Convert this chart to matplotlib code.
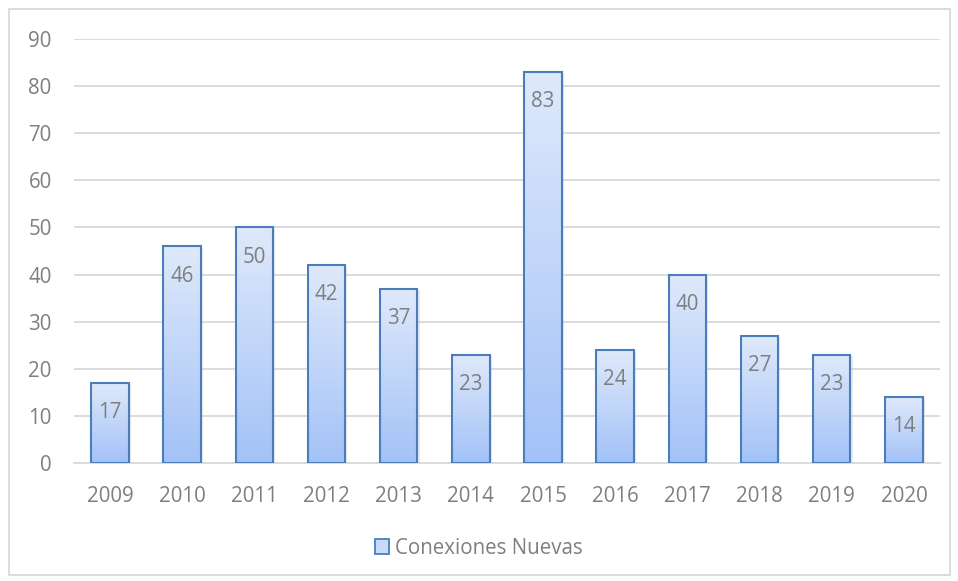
import numpy as np
import matplotlib.pyplot as plt
from matplotlib.patches import Rectangle, Patch
from matplotlib.colors import LinearSegmentedColormap

plt.rcParams['font.family'] = ['Open Sans', 'DejaVu Sans']

# data
years = ['2009', '2010', '2011', '2012', '2013', '2014',
         '2015', '2016', '2017', '2018', '2019', '2020']
conexiones = [17, 46, 50, 42, 37, 23, 83, 24, 40, 27, 23, 14]

gray = '#7f7f7f'
edge = '#4a7ebb'
grad = LinearSegmentedColormap.from_list('g', ['#a3c2f7', '#dfe9fb'])
fs = 14.8

fig = plt.figure(figsize=(9.58, 5.81), dpi=100)
ax = fig.add_axes([0.0772, 0.2031, 0.9040, 0.7298])

x = np.arange(len(years))
bars = ax.bar(x, conexiones, width=0.52, facecolor='none', edgecolor=edge,
              linewidth=1.5, zorder=3)

# gradient fill clipped to each bar
gradient = np.linspace(0, 1, 256).reshape(-1, 1)
for b in bars:
    x0, w, h = b.get_x(), b.get_width(), b.get_height()
    im = ax.imshow(gradient, cmap=grad, origin='lower', aspect='auto',
                   extent=[x0, x0 + w, 0, h], zorder=2, interpolation='bicubic')
    clip = Rectangle((x0, 0), w, h, transform=ax.transData)
    im.set_clip_path(clip)
    # light shadow
    ax.add_patch(Rectangle((x0 + 0.03, -0.3), w, h, facecolor='#bfbfbf',
                           alpha=0.35, edgecolor='none', zorder=1.5))

ax.set_xlim(-0.5, len(years) - 0.5)
ax.set_ylim(0, 90)

for xi, v in zip(x, conexiones):
    ax.annotate(str(v), (xi, v), xytext=(0, -21.5), textcoords='offset points',
                ha='center', va='center', fontsize=fs, color=gray, zorder=4)

ax.set_yticks(range(0, 91, 10))
ax.set_xticks(x)
ax.set_xticklabels(years)
ax.yaxis.grid(True, color='#d9d9d9', linewidth=1.3, zorder=0)
ax.set_axisbelow(True)
ax.tick_params(axis='both', length=0, labelsize=fs, labelcolor=gray)
ax.tick_params(axis='y', pad=16)
ax.tick_params(axis='x', pad=16.5)
for s in ['top', 'right', 'left']:
    ax.spines[s].set_visible(False)
ax.spines['bottom'].set_color('#d9d9d9')
ax.spines['bottom'].set_linewidth(1.3)

handle = Patch(facecolor='#c7daf9', edgecolor=edge, linewidth=1.3)
fig.legend([handle], ['Conexiones Nuevas'], loc='center',
           bbox_to_anchor=(0.5, 1 - 548 / 581), frameon=False,
           fontsize=fs, labelcolor=gray, handlelength=0.7, handleheight=0.7,
           handletextpad=0.3)

# outer chart border
fig.patches.append(Rectangle((9 / 958, 6 / 581), 941 / 958, 566 / 581,
                             transform=fig.transFigure, fill=False,
                             edgecolor='#d9d9d9', linewidth=1.3))

plt.savefig('out.png', dpi=100)
